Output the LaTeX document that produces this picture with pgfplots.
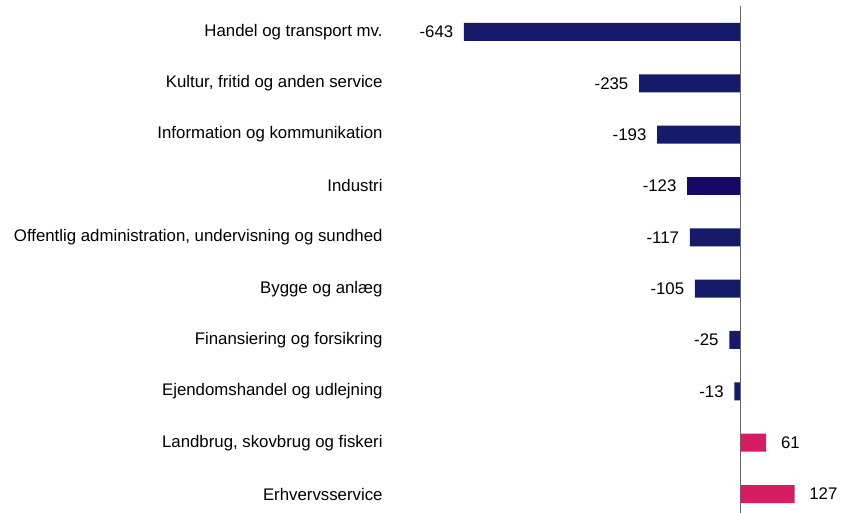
\documentclass[border=0pt]{standalone}
\usepackage{fontspec}
\setmainfont{Liberation Sans}
\usepackage{pgfplots}
\pgfplotsset{compat=1.18}
\definecolor{navy}{HTML}{161A6B}
\definecolor{navyb}{HTML}{150866}
\definecolor{pink}{HTML}{D61C63}
\begin{document}
\fontsize{16.8pt}{20pt}\selectfont
\begin{tikzpicture}
\begin{axis}[
    at={(0,0)}, anchor=south west,
    scale only axis,
    width=457.6pt, height=506.7pt,
    xmin=-800, xmax=266,
    ymin=-0.5, ymax=9.37,
    y dir=reverse,
    axis line style={draw=none},
    xtick=\empty,
    ytick={0,...,9},
    yticklabels={Handel og transport mv.,
      {Kultur, fritid og anden service},
      Information og kommunikation,
      Industri,
      {Offentlig administration, undervisning og sundhed},
      Bygge og anlæg,
      Finansiering og forsikring,
      Ejendomshandel og udlejning,
      {Landbrug, skovbrug og fiskeri},
      Erhvervsservice},
    ytick style={draw=none},
    yticklabel style={font=\fontsize{16.8pt}{20pt}\selectfont, anchor=east, xshift=-4pt},
    xbar, bar shift=0pt, bar width=18pt,
    point meta=explicit symbolic,
    nodes near coords,
    every node near coord/.append style={font=\fontsize{16.8pt}{20pt}\selectfont, text=black},
    clip=false,
]
\addplot[draw=none, fill=navy, nodes near coords style={anchor=east, xshift=-5pt}] coordinates {
    (-643,0) [-643] (-235,1) [-235] (-193,2) [-193]
    (-117,4) [-117] (-105,5) [-105] (-25,6) [-25] (-13,7) [-13]
};
\addplot[draw=none, fill=navyb, nodes near coords style={anchor=east, xshift=-5pt}] coordinates {
    (-123,3) [-123]
};
\addplot[draw=none, fill=pink, nodes near coords style={anchor=west, xshift=9pt}] coordinates {
    (61,8) [61] (127,9) [127]
};
\draw[gray!80!black, line width=0.8pt] (axis cs:0,-0.5) -- (axis cs:0,9.37);
\end{axis}
\pgfresetboundingbox
\useasboundingbox (-396.6pt,0) rectangle (457.4pt,513pt);
\end{tikzpicture}
\end{document}
